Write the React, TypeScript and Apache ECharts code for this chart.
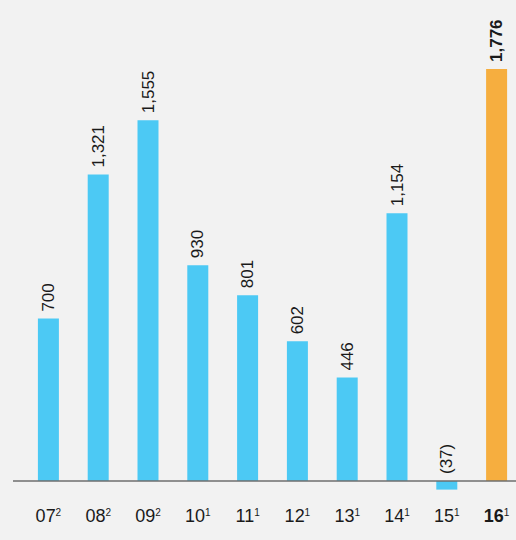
import React, { useEffect, useRef } from "react";
import * as echarts from "echarts";

const years = ["07", "08", "09", "10", "11", "12", "13", "14", "15", "16"];
const notes = ["2", "2", "2", "1", "1", "1", "1", "1", "1", "1"];
const values = [700, 1321, 1555, 930, 801, 602, 446, 1154, -37, 1776];
const highlightIndex = 9;

const BLUE = "#4cc9f4";
const ORANGE = "#f6ae3f";
const FONT = "Liberation Sans, Arial, sans-serif";

function fmt(v: number): string {
  const s = Math.abs(v).toLocaleString("en-US");
  return v < 0 ? `(${s})` : s;
}

export default function App() {
  const ref = useRef<HTMLDivElement>(null);
  useEffect(() => {
    document.body.style.margin = "0";
    document.body.style.background = "#f2f2f2";
    const chart = echarts.init(ref.current!, null, { renderer: "svg" });
    const data = values.map((v, i) => ({
      value: v,
      itemStyle: { color: i === highlightIndex ? ORANGE : BLUE },
      label: {
        fontWeight: i === highlightIndex ? "bold" : "normal",
      },
    }));
    chart.setOption({
      animation: false,
      backgroundColor: "#f2f2f2",
      grid: {
        left: 23.5,
        right: -5.5,
        top: 17,
        bottom: 49.7,
        containLabel: false,
        outerBoundsMode: "none",
      },
      xAxis: {
        type: "category",
        data: years,
        axisLine: { show: false },
        axisTick: { show: false },
        axisLabel: {
          interval: 0,
          margin: 17,
          hideOverlap: false,
          formatter: (val: string, idx: number) =>
            idx === highlightIndex ? `{b|${val}}{s|${notes[idx]}}` : `{a|${val}}{s|${notes[idx]}}`,
          rich: {
            a: { fontSize: 18, color: "#1a1a1a", fontFamily: FONT, letterSpacing: -1 },
            b: { fontSize: 18, color: "#1a1a1a", fontFamily: FONT, fontWeight: "bold", letterSpacing: -1 },
            s: { fontSize: 10, color: "#1a1a1a", fontFamily: FONT, padding: [0, 0, 8, 0] },
          },
        },
      },
      yAxis: {
        type: "value",
        min: -40,
        max: 2000,
        show: false,
        splitLine: { show: false },
      },
      series: [
        {
          type: "bar",
          data,
          barWidth: 21,
          label: {
            show: true,
            position: "top",
            rotate: 90,
            align: "left",
            verticalAlign: "middle",
            distance: 7,
            fontSize: 17,
            color: "#1a1a1a",
            fontFamily: FONT,
            formatter: (p: any) => fmt(p.value),
          },
        },
      ],
    });
    const y0 = chart.convertToPixel({ yAxisIndex: 0 }, 0) as number;
    chart.setOption({
      graphic: [
        {
          type: "line",
          z: 100,
          shape: { x1: 13, y1: y0, x2: 516, y2: y0 },
          style: { stroke: "#6e6e6e", lineWidth: 1.5 },
        },
      ],
    });
    return () => chart.dispose();
  }, []);
  return <div ref={ref} style={{ width: 516, height: 540 }} />;
}
